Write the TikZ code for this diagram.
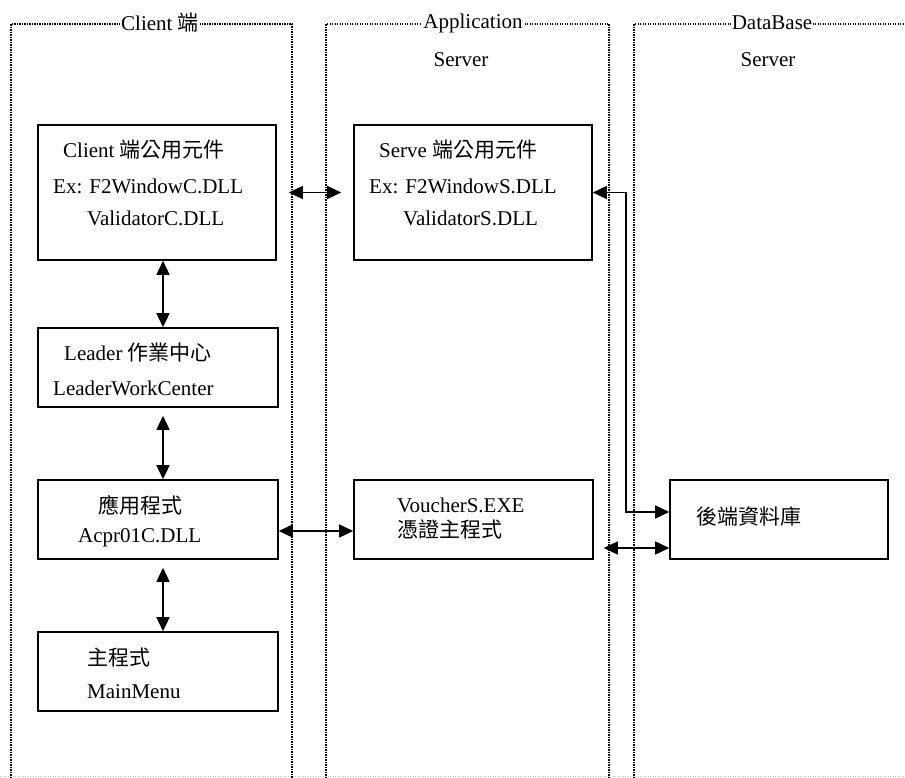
\documentclass[tikz,border=0pt]{standalone}
\usepackage{fontspec}
\setmainfont{Liberation Serif}
\newfontfamily\cjk{Noto Sans CJK TC}
\usetikzlibrary{arrows.meta}
\tikzset{
  frame/.style={line width=1.5pt, dash pattern=on 1.2pt off 1.3pt},
  base/.style={line width=1pt, gray!50, dash pattern=on 1.2pt off 1.3pt},
  box/.style={draw, line width=1.6pt, inner sep=0pt},
  lbl/.style={anchor=west, inner sep=0pt, font=\fontsize{21}{24}\selectfont},
  ttl/.style={inner sep=1pt, fill=white, font=\fontsize{21}{24}\selectfont},
  conn/.style={line width=1.6pt, {Triangle[length=14pt,width=13pt]}-{Triangle[length=14pt,width=13pt]}}
}
\begin{document}
\begin{tikzpicture}[x=1pt,y=-1pt]
\useasboundingbox (0,0) rectangle (905,778);
% frames
\draw[frame] (11,778) -- (11,24) -- (292,24) -- (292,778);
\draw[frame] (326,778) -- (326,24) -- (609,24) -- (609,778);
\draw[frame] (634,778) -- (634,24) -- (905,24);
\draw[base] (0,776) -- (905,776);
\node[ttl] (tc) at (160,23) {Client {\cjk 端}};
\node[ttl] (ta) at (473,23) {Application};
\node[ttl] (tas) at (461,60) {Server};
\node[ttl] (td) at (772,23) {DataBase};
\node[ttl] (tds) at (768,60) {Server};
% boxes
\node[box, minimum width=238pt, minimum height=135pt] (c1) at (157,192.5) {};
\node[box, minimum width=238pt, minimum height=135pt] (s1) at (473,192.5) {};
\node[box, minimum width=240pt, minimum height=79pt] (ld) at (158,367.5) {};
\node[box, minimum width=240pt, minimum height=79pt] (ap) at (158,519.5) {};
\node[box, minimum width=239pt, minimum height=79pt] (vs) at (473.5,519.5) {};
\node[box, minimum width=218pt, minimum height=79pt] (db) at (779,519.5) {};
\node[box, minimum width=240pt, minimum height=79pt] (mm) at (158,671.5) {};
% texts
\node[lbl] (c1a) at (63,150) {Client {\cjk 端公用元件}};
\node[lbl] (c1b) at (53,186) {Ex: F2WindowC.DLL};
\node[lbl] (c1c) at (87,218) {ValidatorC.DLL};
\node[lbl] (s1a) at (379,150) {Serve {\cjk 端公用元件}};
\node[lbl] (s1b) at (369,186) {Ex: F2WindowS.DLL};
\node[lbl] (s1c) at (403,218) {ValidatorS.DLL};
\node[lbl] (lda) at (64,353) {Leader {\cjk 作業中心}};
\node[lbl] (ldb) at (53,388) {LeaderWorkCenter};
\node[lbl] (apa) at (98,505) {\cjk 應用程式};
\node[lbl] (apb) at (78,538) {Acpr01C.DLL};
\node[lbl] (vsa) at (397,505) {VoucherS.EXE};
\node[lbl] (vsb) at (397,529) {\cjk 憑證主程式};
\node[lbl] (dba) at (696,517) {\cjk 後端資料庫};
\node[lbl] (mma) at (87,658) {\cjk 主程式};
\node[lbl] (mmb) at (87,692) {MainMenu};
% connectors
\draw[conn, shorten <=12pt, shorten >=12pt] (c1.east) -- (s1.west);
\draw[conn] ([xshift=6pt]c1.south) -- ([xshift=6pt]c1.south |- ld.north);
\draw[conn, shorten <=8pt] ([xshift=5pt]ld.south) -- ([xshift=5pt]ld.south |- ap.north);
\draw[conn, shorten <=8pt] ([xshift=5pt]ap.south) -- ([xshift=5pt]ap.south |- mm.north);
\draw[conn] ([yshift=-11.5pt]ap.east) -- ([yshift=-11.5pt]ap.east -| vs.west);
\coordinate (bend) at (626,192.5);
\draw[conn] (s1.east) -- (bend) |- ([yshift=7.5pt]db.west);
\draw[conn, shorten >=10pt] ([yshift=-28.5pt]db.west) -- ([yshift=-28.5pt]db.west -| vs.east);
\end{tikzpicture}
\end{document}
